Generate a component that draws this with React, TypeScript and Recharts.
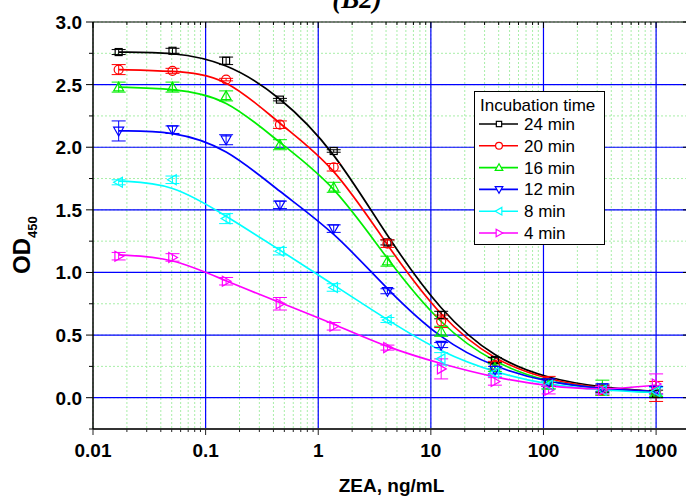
import { ComposedChart, Line, Scatter, XAxis, YAxis, CartesianGrid, ReferenceLine, ErrorBar } from 'recharts'

// ZEA concentrations, ng/mL (3-fold dilution series)
const ZEA = [0.0169, 0.0508, 0.152, 0.457, 1.372, 4.115, 12.35, 37.04, 111.1, 333.3, 1000]

// measured OD450 (mean) and SD per incubation time
const OD_24 = [2.76, 2.77, 2.69, 2.38, 1.97, 1.24, 0.66, 0.3, 0.12, 0.07, 0.03]
const SD_24 = [0.02, 0.02, 0.03, 0.01, 0.01, 0.02, 0.03, 0.02, 0.03, 0.03, 0.03]
const OD_20 = [2.62, 2.61, 2.54, 2.18, 1.84, 1.23, 0.61, 0.26, 0.12, 0.06, 0.05]
const SD_20 = [0.04, 0.02, 0.01, 0.03, 0.03, 0.03, 0.05, 0.03, 0.05, 0.04, 0.08]
const OD_16 = [2.48, 2.48, 2.41, 2.02, 1.68, 1.09, 0.53, 0.24, 0.1, 0.08, 0.05]
const SD_16 = [0.04, 0.04, 0.04, 0.04, 0.04, 0.04, 0.04, 0.03, 0.03, 0.06, 0.04]
const OD_12 = [2.13, 2.14, 2.06, 1.54, 1.35, 0.85, 0.42, 0.22, 0.12, 0.08, 0.06]
const SD_12 = [0.08, 0.03, 0.04, 0.03, 0.03, 0.02, 0.02, 0.03, 0.03, 0.03, 0.03]
const OD_8 = [1.72, 1.74, 1.43, 1.17, 0.88, 0.62, 0.31, 0.2, 0.1, 0.06, 0.05]
const SD_8 = [0.02, 0.03, 0.04, 0.03, 0.03, 0.02, 0.05, 0.03, 0.03, 0.03, 0.03]
const OD_4 = [1.13, 1.12, 0.93, 0.75, 0.57, 0.4, 0.23, 0.13, 0.06, 0.06, 0.11]
const SD_4 = [0.03, 0.03, 0.03, 0.05, 0.03, 0.02, 0.08, 0.03, 0.03, 0.03, 0.08]

// fitted curves at the same concentrations
const FIT_24 = [2.76, 2.76, 2.68, 2.41, 1.98, 1.28, 0.68, 0.31, 0.15, 0.08, 0.05]
const FIT_20 = [2.62, 2.61, 2.57, 2.18, 1.86, 1.21, 0.63, 0.29, 0.14, 0.07, 0.05]
const FIT_16 = [2.48, 2.47, 2.4, 2.03, 1.71, 1.1, 0.57, 0.27, 0.12, 0.07, 0.04]
const FIT_12 = [2.13, 2.13, 2.0, 1.64, 1.33, 0.86, 0.46, 0.24, 0.12, 0.07, 0.05]
const FIT_8 = [1.73, 1.71, 1.45, 1.18, 0.9, 0.62, 0.36, 0.2, 0.1, 0.06, 0.04]
const FIT_4 = [1.14, 1.12, 0.93, 0.76, 0.59, 0.4, 0.27, 0.16, 0.09, 0.06, 0.1]

const X_MAJOR = [0.01, 0.1, 1, 10, 100, 1000]
const X_LABELS = ['0.01', '0.1', '1', '10', '100', '1000']
const X_MINOR = [0.01, 0.1, 1, 10, 100, 1000].flatMap((d) => [2, 3, 4, 5, 6, 7, 8, 9].map((m) => +(d * m).toPrecision(3))).filter((v) => v <= 2000)
const X_TICKS = [...X_MAJOR, ...X_MINOR].sort((a, b) => a - b)

const Y_MAJOR = [0, 0.5, 1, 1.5, 2, 2.5, 3]
const Y_LABELS = ['0.0', '0.5', '1.0', '1.5', '2.0', '2.5', '3.0']
const Y_MINOR = [-0.25, 0.25, 0.75, 1.25, 1.75, 2.25, 2.75]
const Y_TICKS = [...Y_MAJOR, ...Y_MINOR].sort((a, b) => a - b)

type Shape = 'square' | 'circle' | 'up' | 'down' | 'left' | 'right'

const SERIES: { name: string; color: string; shape: Shape; od: number[]; sd: number[]; fit: number[] }[] = [
  { name: '24 min', color: '#000000', shape: 'square', od: OD_24, sd: SD_24, fit: FIT_24 },
  { name: '20 min', color: '#ff0000', shape: 'circle', od: OD_20, sd: SD_20, fit: FIT_20 },
  { name: '16 min', color: '#00ee00', shape: 'up', od: OD_16, sd: SD_16, fit: FIT_16 },
  { name: '12 min', color: '#0000ff', shape: 'down', od: OD_12, sd: SD_12, fit: FIT_12 },
  { name: '8 min', color: '#00ffff', shape: 'left', od: OD_8, sd: SD_8, fit: FIT_8 },
  { name: '4 min', color: '#ff00ff', shape: 'right', od: OD_4, sd: SD_4, fit: FIT_4 },
]

const W = 700
const H = 497
const PLOT_LEFT = 93
const PLOT_RIGHT = 690
const PLOT_TOP = 22
const PLOT_BOTTOM = 429
const FONT = '"Liberation Sans", Arial, sans-serif'

function marker(shape: Shape, cx: number, cy: number, s: number, color: string, fill = 'none') {
  const p = { stroke: color, strokeWidth: 1.2, fill }
  switch (shape) {
    case 'square':
      return <rect x={cx - s * 0.7} y={cy - s * 0.7} width={s * 1.4} height={s * 1.4} {...p} />
    case 'circle':
      return <circle cx={cx} cy={cy} r={s * 0.9} {...p} />
    case 'up':
      return <polygon points={`${cx},${cy - s} ${cx - s},${cy + s * 0.75} ${cx + s},${cy + s * 0.75}`} {...p} />
    case 'down':
      return <polygon points={`${cx},${cy + s} ${cx - s},${cy - s * 0.75} ${cx + s},${cy - s * 0.75}`} {...p} />
    case 'left':
      return <polygon points={`${cx - s},${cy} ${cx + s * 0.75},${cy - s} ${cx + s * 0.75},${cy + s}`} {...p} />
    default:
      return <polygon points={`${cx + s},${cy} ${cx - s * 0.75},${cy - s} ${cx - s * 0.75},${cy + s}`} {...p} />
  }
}

function XTick(props: any) {
  const { x, payload } = props
  const i = X_MAJOR.findIndex((v) => Math.abs(v - payload.value) < 1e-9)
  const len = i >= 0 ? 6 : 3
  return (
    <g>
      <line x1={x} x2={x} y1={PLOT_BOTTOM} y2={PLOT_BOTTOM + len} stroke="#222" strokeWidth={1} />
      <line x1={x} x2={x} y1={PLOT_TOP} y2={PLOT_TOP + len} stroke="#000" strokeWidth={1} />
      {i >= 0 && (
        <text x={x} y={457} textAnchor="middle" fontFamily={FONT} fontWeight="bold" fontSize={19} fill="#000">
          {X_LABELS[i]}
        </text>
      )}
    </g>
  )
}

function YTick(props: any) {
  const { y, payload } = props
  const i = Y_MAJOR.findIndex((v) => Math.abs(v - payload.value) < 1e-9)
  const len = i >= 0 ? 7 : 4
  return (
    <g>
      <line x1={PLOT_LEFT - len} x2={PLOT_LEFT} y1={y} y2={y} stroke="#000" strokeWidth={1} />
      <line x1={PLOT_RIGHT - len} x2={PLOT_RIGHT} y1={y} y2={y} stroke="#000" strokeWidth={1} />
      {i >= 0 && (
        <text x={82} y={y + 7} textAnchor="end" fontFamily={FONT} fontWeight="bold" fontSize={19} fill="#000">
          {Y_LABELS[i]}
        </text>
      )}
    </g>
  )
}

function Legend() {
  return (
    <svg width={131} height={154} style={{ position: 'absolute', left: 474, top: 91 }}>
      <rect x={0.5} y={0.5} width={130} height={153} fill="#fff" stroke="#000" strokeWidth={1} />
      <text x={6} y={20} fontFamily={FONT} fontSize={17} fill="#000">
        Incubation time
      </text>
      {SERIES.map((s, i) => {
        const cy = 33 + i * 21.8
        return (
          <g key={s.name}>
            <line x1={5} x2={44} y1={cy} y2={cy} stroke={s.color} strokeWidth={1.6} />
            {marker(s.shape, 25, cy, 3.8, s.color, '#fff')}
            <text x={50} y={cy + 6} fontFamily={FONT} fontSize={17} fill="#000">
              {s.name}
            </text>
          </g>
        )
      })}
    </svg>
  )
}

export default function App() {
  return (
    <div style={{ position: 'absolute', left: 0, top: 0, width: 686, height: 497, overflow: 'hidden', background: '#fff' }}>
      <svg width={686} height={30} style={{ position: 'absolute', left: 0, top: 0 }}>
        <text x={357} y={8} textAnchor="middle" fontFamily='"Liberation Serif", "Times New Roman", serif' fontWeight="bold" fontStyle="italic" fontSize={27} fill="#000">
          (B2)
        </text>
      </svg>
      <ComposedChart width={W} height={H} margin={{ top: PLOT_TOP, right: W - PLOT_RIGHT, bottom: 0, left: 0 }}>
        <CartesianGrid stroke="#a8eea8" strokeDasharray="2 2" strokeWidth={1} />
        <XAxis
          dataKey="x"
          type="number"
          scale="log"
          domain={[0.01, 2000]}
          allowDataOverflow
          ticks={X_TICKS}
          interval={0}
          height={H - PLOT_BOTTOM}
          tickLine={false}
          axisLine={{ stroke: '#333', strokeWidth: 2 }}
          tick={<XTick />}
          label={{
            content: (p: any) => (
              <text x={p.viewBox.x + p.viewBox.width / 2} y={492} textAnchor="middle" fontFamily={FONT} fontWeight="bold" fontSize={19} fill="#000">
                ZEA, ng/mL
              </text>
            ),
          }}
        />
        <YAxis
          type="number"
          domain={[-0.25, 3]}
          allowDataOverflow
          ticks={Y_TICKS}
          interval={0}
          width={PLOT_LEFT}
          tickLine={false}
          axisLine={{ stroke: '#000', strokeWidth: 1.5 }}
          tick={<YTick />}
          label={{
            content: () => (
              <text x={30} y={274} transform="rotate(-90, 30, 274)" fontFamily={FONT} fontWeight="bold" fill="#000">
                <tspan fontSize={24}>OD</tspan>
                <tspan fontSize={13} dy={7}>
                  450
                </tspan>
              </text>
            ),
          }}
        />
        {X_MAJOR.slice(1).map((v) => (
          <ReferenceLine key={`vx${v}`} x={v} stroke="#0000ff" strokeWidth={1.2} />
        ))}
        {Y_MAJOR.slice(0, -1).map((v) => (
          <ReferenceLine key={`hy${v}`} y={v} stroke="#0000ff" strokeWidth={1.2} />
        ))}
        <ReferenceLine y={3} stroke="#000" strokeWidth={1} />
        {SERIES.map((s) => (
          <Line
            key={`fit-${s.name}`}
            data={ZEA.map((x, i) => ({ x, fit: s.fit[i] }))}
            dataKey="fit"
            type="basis"
            stroke={s.color}
            strokeWidth={1.7}
            dot={false}
            activeDot={false}
            legendType="none"
            isAnimationActive={false}
          />
        ))}
        {SERIES.map((s) => (
          <Scatter
            key={`pts-${s.name}`}
            name={s.name}
            data={ZEA.map((x, i) => ({ x, od: s.od[i], sd: s.sd[i] }))}
            dataKey="od"
            isAnimationActive={false}
            shape={(p: any) => marker(s.shape, p.cx, p.cy, 5, s.color)}
          >
            <ErrorBar dataKey="sd" direction="y" width={7} stroke={s.color} strokeWidth={1} />
          </Scatter>
        ))}
      </ComposedChart>
      <Legend />
    </div>
  )
}
